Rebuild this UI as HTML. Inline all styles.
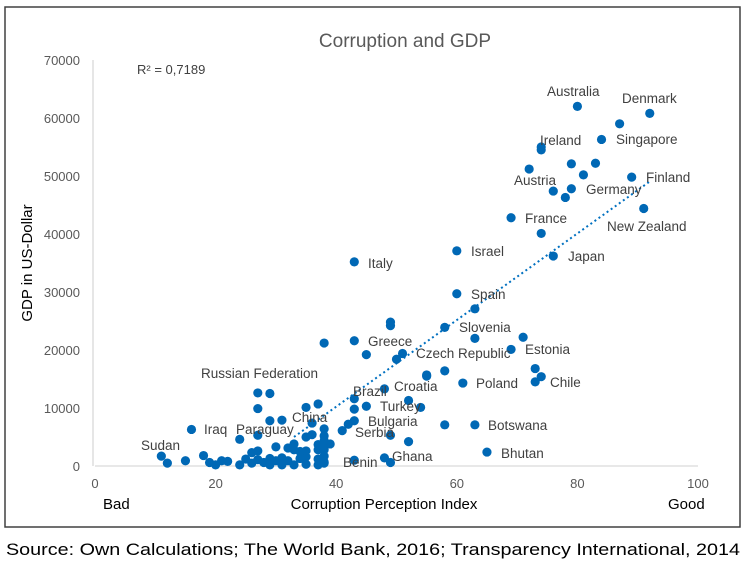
<!DOCTYPE html>
<html><head><meta charset="utf-8"><style>
html,body{margin:0;padding:0;background:#fff;}
svg{display:block;font-family:"Liberation Sans",sans-serif;}
</style></head><body>
<svg id="chart" width="746" height="570">
<rect x="5" y="7" width="735" height="520" fill="#fff" stroke="#404040" stroke-width="1.5"/>
<text x="405" y="47" text-anchor="middle" font-size="19" fill="#595959">Corruption and GDP</text>
<text x="137" y="74" font-size="13" fill="#404040">R² = 0,7189</text>
<g id="grid"></g>
<g id="trend"></g>
<g id="pts"></g>
<g id="lbls"></g>
<text transform="translate(32,263) rotate(-90)" text-anchor="middle" font-size="15" fill="#000">GDP in US-Dollar</text>
<text x="103" y="509" font-size="15" fill="#000">Bad</text>
<text x="384" y="509" text-anchor="middle" font-size="15" fill="#000">Corruption Perception Index</text>
<text x="668" y="509" font-size="15" fill="#000">Good</text>
<text x="6" y="555" font-size="17" fill="#000" textLength="734" lengthAdjust="spacingAndGlyphs">Source: Own Calculations; The World Bank, 2016; Transparency International, 2014</text>
</svg>
<script>
const xTicks=[0,20,40,60,80,100];
const yTicks=[0,10000,20000,30000,40000,50000,60000,70000];
const cpi=[80,92,87,84,74,74,79,83,72,81,89,79,76,78,91,69,74,60,76,43,60,63,49,49,58,63,71,38,43,69,45,51,50,58,55,73,74,73,61,
27,29,27,29,31,35,37,16,27,24,36,38,43,43,45,48,55,52,54,42,43,41,49,52,58,63,65,48,49,43,11,12,15,18,19,20,21,22,
24,25,26,27,28,29,29,30,31,31,32,33,34,35,35,37,37,38,38,38,37,38,39,38,37,38,38,34,33,32,35,33,30,26,27,35,36];
const gdp=[62000,60800,59000,56300,54500,55000,52100,52200,51200,50200,49800,47800,47400,46300,44400,42800,40100,37100,36200,35200,29700,27100,24800,24200,23900,22000,22200,21200,21600,20100,19200,19400,18400,16400,15700,16800,15400,14500,14300,
12600,12500,9900,7800,7900,10100,10700,6300,5300,4600,7400,6400,11600,9800,10300,13300,15500,11300,10100,7200,7800,6100,5300,4200,7100,7100,2400,1400,600,1000,1700,500,900,1800,600,200,900,800,
200,1200,500,1100,600,1300,200,900,1400,200,900,200,1300,300,1600,200,1200,700,500,1700,2800,2800,3800,3800,3700,5200,4400,2500,2800,3100,2600,3800,3300,2300,2600,5000,5400];
const labels=["Australia","Denmark","Singapore","Ireland","Austria","Germany","Finland","France","New Zealand","Israel","Japan","Italy","Spain","Slovenia","Greece","Czech Republic","Estonia","Russian Federation","Croatia","Brazil","Poland","Chile","Turkey","Bulgaria","Botswana","Iraq","Paraguay","China","Serbia","Sudan","Ghana","Bhutan","Benin"];
const labelX=[547,622,616,540,514,586,646,525,607,471,568,368,471,459,368,416,525,201,394,353,476,550,380,368,488,204,236,292,355,141,392,501,343];
const labelY=[96,103,144,145,185,194,182,223,231,256,261,268,299,332,346,358,354,378,391,396,388,387,411,426,430,434,434,422,437,450,461,458,467];
const NS="http://www.w3.org/2000/svg";
const X=v=>95+v*6.03, Y=v=>466-v*0.0058;
function mk(t,a,p){const e=document.createElementNS(NS,t);for(const k in a)e.setAttribute(k,a[k]);p.appendChild(e);return e;}
const g=document.getElementById('grid');
const bl=mk('line',{x1:X(0),x2:X(100),y1:Y(0),y2:Y(0),stroke:'#d9d9d9','stroke-width':1.3},g);


const ll=mk('line',{x1:93,x2:93,y1:Y(70000),y2:Y(0),stroke:'#d9d9d9','stroke-width':1.3},g);


xTicks.forEach(t=>{const e=mk('text',{x:X(t),y:488,'text-anchor':'middle','font-size':13,fill:'#595959'},g);e.textContent=t;

});
yTicks.forEach(t=>{const e=mk('text',{x:80,y:Y(t)+5,'text-anchor':'end','font-size':13,fill:'#595959'},g);e.textContent=t;

});
let n=cpi.length,sx=0,sy=0,sxx=0,sxy=0;for(let i=0;i<n;i++){sx+=cpi[i];sy+=gdp[i];sxx+=cpi[i]*cpi[i];sxy+=cpi[i]*gdp[i];}
const b=(n*sxy-sx*sy)/(n*sxx-sx*sx),a=(sy-b*sx)/n;
const x0=33,x1=Math.max(...cpi);
const tl=mk('line',{x1:X(x0),y1:Y(a+b*x0),x2:X(x1),y2:Y(a+b*x1),stroke:'#0070c0','stroke-width':2,'stroke-dasharray':'2 3'},document.getElementById('trend'));


const pg=document.getElementById('pts');
for(let i=0;i<n;i++){const c=mk('circle',{cx:X(cpi[i]),cy:Y(gdp[i]),r:4.6,fill:'#0068b5'},pg);

}
const lg=document.getElementById('lbls');
labels.forEach((s,i)=>{const e=mk('text',{x:labelX[i],y:labelY[i],'font-size':13.5,fill:'#404040'},lg);e.textContent=s;

});
</script>
</body></html>
